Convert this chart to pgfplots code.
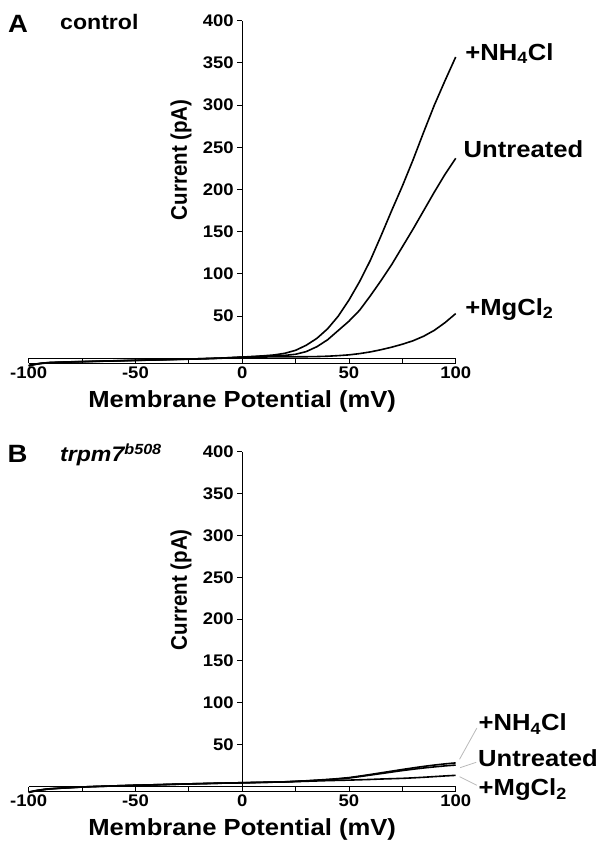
\documentclass[border=0pt]{standalone}
\usepackage{fontspec}
\setmainfont{Liberation Sans}[FakeStretch=1.1]
\newfontfamily\ylabfont{Liberation Sans}
\usepackage{graphicx}
\usepackage{pgfplots}
\usepackage{pgfplotstable}
\pgfplotsset{compat=1.18}

% panel A (control): V in mV, currents in pA
\pgfplotstableread{
V     nh     un     mg
-100  -9.0   -8.4   -8.8
-98   -7.6   -7.2   -7.8
-96   -6.6   -6.4   -6.8
-94   -5.9   -5.7   -6.1
-92   -5.4   -5.3   -5.6
-90   -5.0   -4.9   -5.2
-85   -4.6   -4.5   -4.7
-80   -4.2   -4.1   -4.3
-75   -3.9   -3.8   -4.0
-70   -3.6   -3.5   -3.7
-65   -3.3   -3.2   -3.4
-60   -3.0   -2.9   -3.1
-55   -2.7   -2.6   -2.8
-50   -2.4   -2.3   -2.5
-45   -2.1   -2.0   -2.2
-40   -1.8   -1.7   -1.9
-35   -1.5   -1.4   -1.6
-30   -1.2   -1.1   -1.3
-25   -0.9   -0.8   -1.0
-20   -0.5   -0.5   -0.7
-15   -0.1   -0.1   -0.3
-10    0.3    0.3    0.1
-5     0.9    0.8    0.6
0      1.5    1.4    1.2
5      2.2    1.9    1.4
10     3.0    2.4    1.6
15     4.0    2.9    1.7
20     6.0    3.5    1.8
25     9.5    4.8    1.8
30    15.5    8.0    1.9
35    23.7   13.8    2.1
40    35.0   22.0    2.5
45    50.0   33.0    3.2
50    69.0   44.0    4.1
55    91.0   57.0    5.6
60   116.0   74.0    7.6
65   145.0   92.0   10.2
70   175.0  111.0   13.2
75   204.0  132.0   16.7
80   235.0  153.0   20.8
85   268.0  175.0   26.2
90   300.0  197.0   33.2
95   329.0  218.0   42.3
100  357.0  237.0   53.0
}\ctrl

% panel B (trpm7 b508)
\pgfplotstableread{
V     nh     un     mg
-100  -7.0   -6.6   -7.2
-98   -5.8   -5.5   -6.0
-96   -4.8   -4.6   -5.0
-94   -4.0   -3.9   -4.2
-92   -3.3   -3.2   -3.5
-90   -2.8   -2.7   -2.9
-85   -2.0   -1.9   -2.1
-80   -1.3   -1.2   -1.4
-75   -0.6   -0.6   -0.7
-70   -0.1   -0.1   -0.2
-65    0.3    0.3    0.2
-60    0.7    0.7    0.6
-55    1.1    1.1    1.0
-50    1.5    1.5    1.4
-45    1.8    1.8    1.7
-40    2.1    2.1    2.0
-30    2.8    2.8    2.7
-20    3.4    3.4    3.3
-10    4.0    4.0    3.9
0      4.5    4.5    4.3
10     5.0    5.0    4.9
20     5.6    5.5    5.4
30     6.8    6.6    6.2
40     8.4    8.1    7.0
45     9.4    9.0    7.3
50    10.6   10.1    7.6
55    12.4   11.8    8.0
60    14.3   13.6    8.4
65    16.3   15.4    8.9
70    18.3   17.2    9.3
75    20.3   19.0    9.7
80    22.2   20.6   10.3
85    24.0   22.1   11.0
90    25.6   23.4   11.8
95    27.0   24.6   12.6
100   28.2   25.6   13.3
}\mutant

\pgfplotsset{
  ivpanel/.style={
    scale only axis, width=427pt,
    xmin=-100, xmax=100, ymin=-6, ymax=400,
    axis x line=bottom, axis y line=middle,
    axis line style={-, line width=1pt},
    hide obscured x ticks=false,
    xtick={-100,-50,0,50,100}, xticklabels={-100,-50,0,50,100},
    minor xtick={-75,-25,25,75},
    ytick={50,100,...,400}, yticklabels={50,100,150,200,250,300,350,400},
    xtick align=inside, ytick align=outside,
    major tick length=5pt, minor tick length=5pt,
    tick style={line width=0.9pt, black},
    tick label style={font=\fontsize{16.8}{17}\selectfont\bfseries},
    clip=false,
    xlabel={Membrane Potential (mV)},
    ylabel={\scalebox{1}[1.1]{Current (pA)}},
    every axis x label/.style={at={(axis description cs:0.5,-0.13)}, anchor=base,
      font=\fontsize{23.3}{24}\selectfont\bfseries},
    every axis y label/.style={at={(axis description cs:0.357,0.594)}, rotate=90,
      anchor=center, font=\ylabfont\fontsize{20.5}{21}\selectfont\bfseries},
  },
}
\tikzset{
  lab/.style={anchor=base west, inner sep=0pt, font=\fontsize{23.3}{24}\selectfont\bfseries},
  trace/.style={black, line width=1.6pt, line join=round},
}

\begin{document}
\begin{tikzpicture}
\path[use as bounding box] (0,0) rectangle (601pt,854pt);

\node[anchor=base west, inner sep=0pt, font=\fontsize{25}{25}\selectfont\bfseries] at (8pt,821pt) {A};
\node[anchor=base west, inner sep=0pt, font=\fontsize{21}{21}\selectfont\bfseries] at (60pt,824.7pt) {control};
\node[anchor=base west, inner sep=0pt, font=\fontsize{25}{25}\selectfont\bfseries] at (7.3pt,391.3pt) {B};
\node[anchor=base west, inner sep=0pt, font=\fontsize{21}{21}\selectfont\bfseries\itshape] at (60pt,392.3pt) {trpm7\textsuperscript{b508}};

\begin{axis}[ivpanel, height=342.7pt, at={(28.7pt,490.6pt)}, anchor=south west]
  \draw[line width=1pt] (axis cs:-100,0) -- (axis cs:100,0);
  \addplot[trace] table[x=V, y=nh] {\ctrl};
  \addplot[trace] table[x=V, y=un] {\ctrl};
  \addplot[trace] table[x=V, y=mg] {\ctrl};
  \node[lab] at (axis cs:104.4,353.4) {+NH\textsubscript{4}Cl};
  \node[lab] at (axis cs:103.6,238) {Untreated};
  \node[lab] at (axis cs:104.4,51.3) {+MgCl\textsubscript{2}};
\end{axis}

\begin{axis}[ivpanel, height=339.8pt, at={(28.7pt,62.5pt)}, anchor=south west]
  \draw[line width=1pt] (axis cs:-100,0) -- (axis cs:100,0);
  \addplot[trace] table[x=V, y=nh] {\mutant};
  \addplot[trace] table[x=V, y=un] {\mutant};
  \addplot[trace] table[x=V, y=mg] {\mutant};
  \draw[gray!55, line width=0.8pt] (axis cs:101.8,32.5) -- (axis cs:109.9,69.8);
  \draw[gray!55, line width=0.8pt] (axis cs:102.1,22.5) -- (axis cs:109.6,28.9);
  \draw[gray!55, line width=0.8pt] (axis cs:101.8,11.7) -- (axis cs:109.9,1.4);
  \node[lab] at (axis cs:110.7,66.7) {+NH\textsubscript{4}Cl};
  \node[lab] at (axis cs:110.4,23.7) {Untreated};
  \node[lab] at (axis cs:110.7,-11) {+MgCl\textsubscript{2}};
\end{axis}
\end{tikzpicture}
\end{document}
